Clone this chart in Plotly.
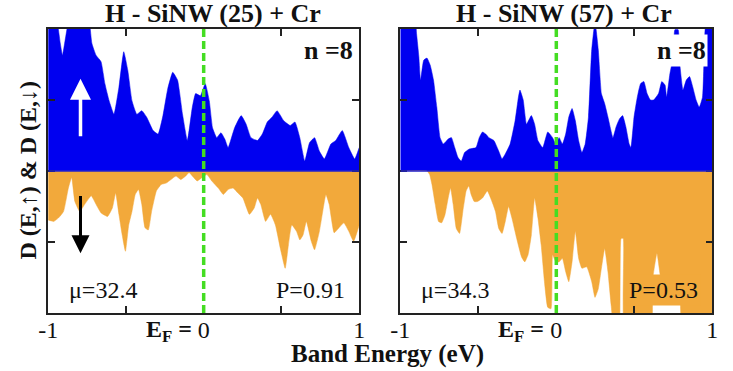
import plotly.graph_objects as go

# ---------------- data ----------------
# Left panel: H - SiNW (25) + Cr
left_up_E = [-1.000, -0.943, -0.922, -0.908, -0.891, -0.870, -0.828, -0.744, -0.719, -0.692, -0.660, -0.635,
             -0.608, -0.577, -0.545, -0.514, -0.488, -0.461, -0.430, -0.398, -0.367, -0.325, -0.293, -0.262,
             -0.231, -0.199, -0.168, -0.136, -0.105, -0.073, -0.052, -0.021, 0.010, 0.036, 0.057, 0.084,
             0.111, 0.136, 0.157, 0.199, 0.241, 0.273, 0.304, 0.346, 0.377, 0.409, 0.440, 0.472, 0.514,
             0.556, 0.587, 0.618, 0.650, 0.681, 0.713, 0.744, 0.776, 0.818, 0.849, 0.891, 0.933, 0.971, 1.000]
left_up_v = [2.3, 2.1, 1.80, 1.63, 1.84, 2.1, 2.3, 2.2, 1.80, 1.63, 1.54, 1.23,
             0.99, 0.80, 1.18, 1.68, 1.42, 0.99, 0.80, 0.85, 0.76, 0.57, 0.52, 0.78,
             1.16, 1.39, 1.28, 0.80, 0.43, 0.90, 1.09, 1.06, 1.23, 0.99, 0.61, 0.47,
             0.54, 0.45, 0.33, 0.61, 0.78, 0.66, 0.47, 0.43, 0.52, 0.69, 0.76, 0.85, 0.71,
             0.64, 0.69, 0.47, 0.14, 0.40, 0.47, 0.28, 0.17, 0.38, 0.43, 0.57, 0.33, 0.17, 0.33]

left_dn_E = [-1.000, -0.964, -0.933, -0.901, -0.870, -0.849, -0.828, -0.797, -0.765, -0.723, -0.692, -0.660,
             -0.618, -0.587, -0.566, -0.545, -0.524, -0.503, -0.482, -0.461, -0.440, -0.419, -0.398, -0.377,
             -0.356, -0.335, -0.304, -0.273, -0.241, -0.210, -0.178, -0.147, -0.115, -0.094, -0.073, -0.042,
             -0.010, 0.021, 0.052, 0.094, 0.126, 0.157, 0.189, 0.220, 0.252, 0.294, 0.325, 0.346, 0.367,
             0.398, 0.430, 0.461, 0.493, 0.524, 0.545, 0.566, 0.597, 0.618, 0.639, 0.660, 0.692, 0.713,
             0.744, 0.776, 0.786, 0.807, 0.839, 0.870, 0.901, 0.933, 0.964, 1.000]
left_dn_v = [-0.69, -0.71, -0.66, -0.57, -0.24, -0.09, -0.43, -0.57, -0.47, -0.35, -0.47, -0.59,
             -0.64, -0.52, -0.31, -0.61, -0.90, -1.13, -0.76, -0.57, -0.33, -0.26, -0.47, -0.80,
             -0.83, -0.57, -0.28, -0.19, -0.17, -0.12, -0.07, -0.12, -0.07, -0.02, -0.07, -0.14,
             -0.09, -0.05, -0.14, -0.24, -0.33, -0.26, -0.24, -0.31, -0.38, -0.61, -0.52, -0.38, -0.47,
             -0.71, -0.61, -0.76, -1.09, -1.37, -1.04, -0.76, -0.85, -0.97, -0.90, -0.71, -0.99, -1.11,
             -0.85, -0.43, -0.33, -0.47, -0.87, -0.80, -0.73, -0.85, -0.99, -0.76]

# Right panel: H - SiNW (57) + Cr
right_up_E = [-1.000, -0.912, -0.896, -0.881, -0.870, -0.850, -0.829, -0.808, -0.787, -0.766, -0.745, -0.724,
              -0.693, -0.672, -0.651, -0.630, -0.609, -0.588, -0.557, -0.515, -0.494, -0.473, -0.452, -0.432,
              -0.400, -0.369, -0.348, -0.327, -0.296, -0.264, -0.243, -0.233, -0.212, -0.191, -0.160, -0.139,
              -0.118, -0.087, -0.055, -0.024, -0.003, 0.018, 0.039, 0.060, 0.080, 0.101, 0.122, 0.143, 0.164,
              0.185, 0.206, 0.227, 0.248, 0.269, 0.289, 0.310, 0.331, 0.363, 0.383, 0.404, 0.425, 0.446,
              0.467, 0.478, 0.498, 0.519, 0.540, 0.561, 0.582, 0.603, 0.624, 0.655, 0.676, 0.697, 0.707,
              0.728, 0.749, 0.760, 0.781, 0.791, 0.812, 0.833, 0.854, 0.875, 0.896, 0.916, 0.937, 0.952,
              0.969, 1.000]
right_up_v = [2.3, 2.3, 1.94, 1.61, 1.28, 1.56, 1.59, 1.49, 1.28, 0.90, 0.47, 0.38,
              0.45, 0.47, 0.33, 0.19, 0.14, 0.26, 0.31, 0.33, 0.47, 0.55, 0.52, 0.47,
              0.43, 0.28, 0.17, 0.24, 0.38, 0.71, 1.04, 1.14, 1.00, 0.66, 0.78, 0.66,
              0.43, 0.33, 0.55, 0.47, 0.38, 0.47, 0.38, 0.52, 0.76, 0.88, 0.71, 0.43, 0.26,
              0.38, 0.76, 1.71, 2.10, 1.71, 1.09, 0.95, 0.76, 0.47, 0.62, 0.73, 0.78, 0.62,
              0.38, 0.33, 0.76, 1.04, 1.23, 1.26, 1.09, 1.00, 1.00, 1.09, 1.26, 1.21, 1.04,
              1.37, 1.61, 1.99, 1.99, 1.52, 1.14, 1.28, 1.33, 1.18, 1.00, 0.90, 1.04, 1.94,
              2.3, 2.3]

right_dn_E = [-1.000, -0.829, -0.812, -0.797, -0.776, -0.755, -0.735, -0.714, -0.693, -0.678, -0.661, -0.641,
              -0.620, -0.599, -0.578, -0.561, -0.546, -0.526, -0.505, -0.473, -0.442, -0.421, -0.390, -0.369,
              -0.348, -0.327, -0.306, -0.285, -0.254, -0.223, -0.202, -0.181, -0.160, -0.139, -0.118, -0.097,
              -0.076, -0.055, -0.034, -0.024, -0.003, 0.018, 0.039, 0.060, 0.080, 0.101, 0.122, 0.143, 0.164,
              0.195, 0.227, 0.248, 0.269, 0.289, 0.310, 0.331, 0.352, 0.373, 0.400, 0.415, 0.429, 0.442,
              0.603, 0.618, 0.645, 0.666, 0.697, 0.728, 0.760, 0.791, 0.812, 1.000]
right_dn_v = [0.0, 0.0, -0.05, -0.19, -0.47, -0.71, -0.73, -0.62, -0.38, -0.24, -0.47, -0.81,
              -0.88, -0.57, -0.28, -0.21, -0.33, -0.43, -0.43, -0.38, -0.28, -0.38, -0.57, -0.81,
              -0.88, -0.71, -0.50, -0.66, -0.95, -1.21, -1.28, -1.18, -0.90, -0.38, -0.66, -1.04,
              -1.56, -1.92, -1.94, -1.18, -1.28, -1.28, -1.23, -1.42, -1.56, -1.28, -0.85, -1.23, -1.37,
              -1.35, -1.56, -1.78, -1.66, -1.37, -1.09, -1.42, -1.90, -2.3, -2.3, -0.95, -0.95, -2.3,
              -2.3, -1.52, -1.16, -1.47, -1.80, -1.87, -1.82, -1.66, -2.3, -2.3]

panel_titles = ["H - SiNW (25) + Cr", "H - SiNW (57) + Cr"]
moments = ["\u03bc=32.4", "\u03bc=34.3"]
polarizations = ["P=0.91", "P=0.53"]
n_label = "n =8"
x_tickvals = [-1, -0.5, 0, 0.5, 1]
x_ticktext = ["-1", "", "0", "", "1"]
y_tickvals = [-1, 0, 1]
ef_label = "<b>E<sub>F</sub> =</b>"
x_title = "Band Energy (eV)"
y_title = "D (E,\u2191) & D (E,\u2193)"

# ---------------- figure ----------------
BLUE = "#0000F0"
ORANGE = "#F2A93B"
GREEN = "#44DD22"
FONT = "Liberation Serif, Times New Roman, serif"

fig = go.Figure()
series = [(left_up_E, left_up_v, BLUE, "x", "y"),
          (left_dn_E, left_dn_v, ORANGE, "x", "y"),
          (right_up_E, right_up_v, BLUE, "x2", "y2"),
          (right_dn_E, right_dn_v, ORANGE, "x2", "y2")]
for E, v, col, xa, ya in series:
    fig.add_trace(go.Scatter(x=E, y=v, mode="lines", fill="tozeroy", fillcolor=col,
                             line=dict(color=col, width=0.5, shape="spline", smoothing=0.4),
                             xaxis=xa, yaxis=ya, showlegend=False, hoverinfo="skip"))

W, H = 733, 371
xd1 = [39 / W, 357 / W]
xd2 = [399 / W, 718 / W]
yd = [1 - 313 / H, 1 - 29 / H]

axis_common = dict(showline=True, linecolor="#222222", linewidth=1.5, mirror="ticks",
                   ticks="inside", ticklen=7, tickwidth=1.5, tickcolor="#222222",
                   showgrid=False, zeroline=False, fixedrange=True)
xcommon = dict(axis_common, range=[-1, 1], tickvals=x_tickvals, ticktext=x_ticktext,
               ticklabelstandoff=-6,
               tickfont=dict(family=FONT, size=24, color="#111111"))
ycommon = dict(axis_common, range=[-2, 2], tickvals=y_tickvals, showticklabels=False)

fig.update_layout(
    width=W, height=H, margin=dict(l=0, r=0, t=0, b=0),
    plot_bgcolor="white", paper_bgcolor="white",
    xaxis=dict(xcommon, domain=xd1, anchor="y"),
    yaxis=dict(ycommon, domain=yd, anchor="x"),
    xaxis2=dict(xcommon, domain=xd2, anchor="y2"),
    yaxis2=dict(ycommon, domain=yd, anchor="x2"),
)

shapes = []
for xr, yr in [("x", "y"), ("x2", "y2")]:
    shapes.append(dict(type="line", xref=xr, yref=yr, x0=-1, x1=1, y0=0, y1=0,
                       line=dict(color="#2222CC", width=1.5), layer="above"))
    shapes.append(dict(type="line", xref=xr, yref=yr + " domain", x0=0, x1=0, y0=0, y1=1,
                       line=dict(color=GREEN, width=3.5, dash="8px,4px"), layer="above"))
fig.update_layout(shapes=shapes)

ann = []
title_x = [208 / W, 566 / W]
for i, xr in enumerate(["x", "x2"]):
    yr = "y" if xr == "x" else "y2"
    ann.append(dict(text="<b>" + panel_titles[i] + "</b>", xref="paper", yref="paper",
                    x=title_x[i], y=1 - 14 / H, xanchor="center", yanchor="middle",
                    showarrow=False, font=dict(family=FONT, size=26, color="#111111")))
    ann.append(dict(text="<b>" + n_label + "</b>", xref=xr, yref=yr, x=0.97, y=1.70,
                    xanchor="right", yanchor="middle", showarrow=False, bgcolor="white",
                    borderpad=1, font=dict(family=FONT, size=26, color="#111111")))
    ann.append(dict(text=moments[i], xref=xr, yref=yr, x=-0.88, y=-1.67,
                    xanchor="left", yanchor="middle", showarrow=False, bgcolor="white",
                    font=dict(family=FONT, size=24, color="#111111")))
    ann.append(dict(text=polarizations[i], xref=xr, yref=yr, x=0.93, y=-1.67,
                    xanchor="right", yanchor="middle", showarrow=False,
                    bgcolor="white" if i == 0 else ORANGE, borderpad=2,
                    font=dict(family=FONT, size=24, color="#111111")))
    ann.append(dict(text=ef_label, xref=xr, yref="paper", x=-0.063, y=1 - 331 / H,
                    xanchor="right", yanchor="middle", showarrow=False,
                    font=dict(family=FONT, size=24, color="#111111")))

# spin arrows
ann.append(dict(text="", xref="x", yref="y", x=-0.792, y=1.30, axref="x", ayref="y",
                ax=-0.792, ay=0.47, showarrow=True, arrowhead=2, arrowsize=1.2,
                arrowwidth=3.5, arrowcolor="white"))
ann.append(dict(text="", xref="x", yref="y", x=-0.792, y=-1.16, axref="x", ayref="y",
                ax=-0.792, ay=-0.33, showarrow=True, arrowhead=2, arrowsize=1.2,
                arrowwidth=3, arrowcolor="black"))

ann.append(dict(text="<b>" + x_title + "</b>", xref="paper", yref="paper",
                x=386 / W, y=1 - 354 / H, xanchor="center", yanchor="middle", showarrow=False,
                font=dict(family=FONT, size=25, color="#111111")))
ann.append(dict(text="<b>" + y_title + "</b>", xref="paper", yref="paper",
                x=18 / W, y=1 - 170 / H, xanchor="center", yanchor="middle", showarrow=False,
                textangle=-90, font=dict(family=FONT, size=24, color="#111111")))
fig.update_layout(annotations=ann)

fig.write_html("out.html")
